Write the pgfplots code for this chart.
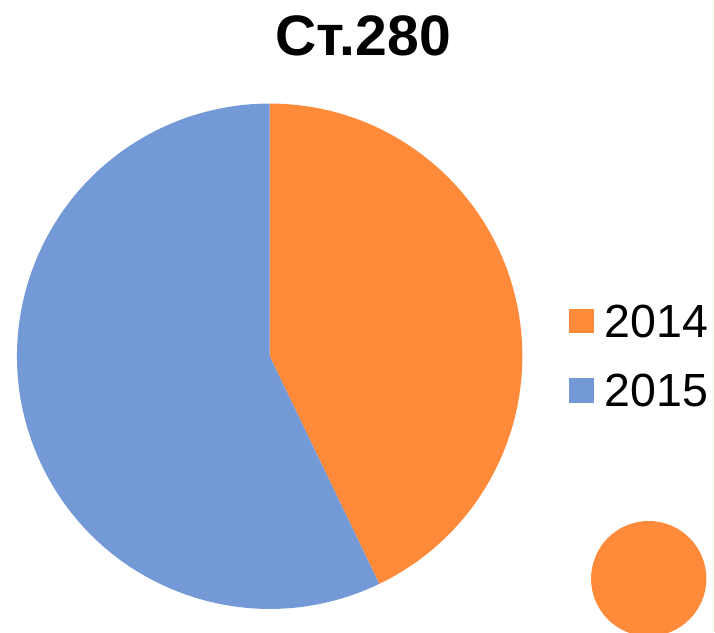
\documentclass[border=0pt]{standalone}
\usepackage{pgfplots}
\pgfplotsset{compat=1.18}
\usepackage{pgfplotstable}
\usepackage{fontspec}
\setmainfont{Liberation Sans}
\definecolor{pieorange}{HTML}{FF8A3A}
\definecolor{pieblue}{HTML}{7399D6}
\definecolor{edgeline}{HTML}{FFCBB8}
\pgfplotstableread{
year value
2014 3
2015 4
}\piedata
\begin{document}
\begin{tikzpicture}
\pgfplotstablegetelem{0}{value}\of\piedata \let\va\pgfplotsretval
\pgfplotstablegetelem{1}{value}\of\piedata \let\vb\pgfplotsretval
\pgfmathsetmacro\angA{360*\va/(\va+\vb)}
\begin{axis}[width=715pt,height=632pt,scale only axis,
  xmin=0,xmax=715,ymin=0,ymax=632,hide axis,clip=true]
\fill[pieorange] (axis cs:269.5,276) -- ++(90:252.5pt) arc[start angle=90,end angle=90-\angA,radius=252.5pt] -- cycle;
\fill[pieblue] (axis cs:269.5,276) -- ++(90-\angA:252.5pt) arc[start angle=90-\angA,end angle=-270,radius=252.5pt] -- cycle;
\node[anchor=base,inner sep=0pt,font=\fontsize{57}{62}\selectfont\bfseries] at (axis cs:363,577) {Ст.280};
\fill[pieorange] (axis cs:569,299) rectangle (axis cs:594,323);
\fill[pieblue] (axis cs:569,229) rectangle (axis cs:594,254);
\node[anchor=base west,inner sep=0pt,font=\fontsize{46.5}{50}\selectfont] at (axis cs:604,295) {2014};
\node[anchor=base west,inner sep=0pt,font=\fontsize{46.5}{50}\selectfont] at (axis cs:604,225.5) {2015};
\fill[pieorange] (axis cs:648.3,53.7) circle[radius=57.6pt];
\draw[edgeline,line width=1.5pt] (axis cs:713.8,0) -- (axis cs:713.8,632);
\end{axis}
\end{tikzpicture}
\end{document}
